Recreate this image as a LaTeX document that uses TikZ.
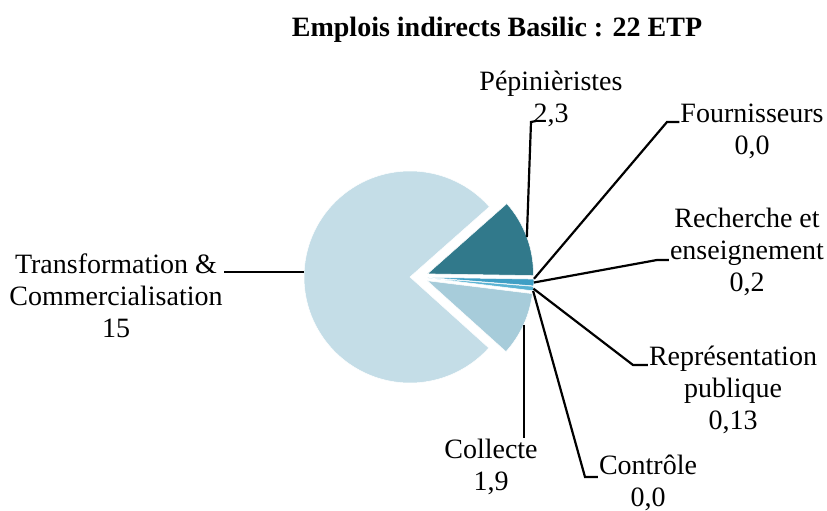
\documentclass[tikz,border=0pt]{standalone}
\usepackage{fontspec}
\setmainfont{Liberation Serif}
\usetikzlibrary{positioning}

\definecolor{transfo}{HTML}{C4DDE7}
\definecolor{pepi}{HTML}{31798B}
\definecolor{rech}{HTML}{3F9FC5}
\definecolor{repr}{HTML}{5AB3D3}
\definecolor{coll}{HTML}{A7CCDA}

\begin{document}
\begin{tikzpicture}[x=1pt, y=1pt, font=\fontsize{28}{32}\selectfont,
  lbl/.style={align=center, inner sep=1pt},
  lead/.style={line width=2.2pt, black},
  slice/.style={draw=white, line width=0.5pt}]

\useasboundingbox (0,0) rectangle (827,511);

\coordinate (o) at (419,234);

% slices, each pulled out by 9 along its middle
\fill[transfo, slice] ([shift={(180:9)}]o) -- ++(41.5:106) arc (41.5:318:106) -- cycle;
\fill[pepi, slice] ([shift={(20.3:9)}]o) -- ++(-0.9:106) arc (-0.9:41.5:106) -- cycle;
\fill[rech, slice] ([shift={(-2.75:9)}]o) -- ++(-4.6:106) arc (-4.6:-0.9:106) -- cycle;
\fill[repr, slice] ([shift={(-5.8:9)}]o) -- ++(-7:106) arc (-7:-4.6:106) -- cycle;
\fill[coll, slice] ([shift={(-24.5:9)}]o) -- ++(-42:106) arc (-42:-7:106) -- cycle;

\coordinate (transfo-tip) at ([shift={(177.5:115)}]o);
\coordinate (pepi-tip) at ([shift={(20.3:115)}]o);
\coordinate (fourn-tip) at ([shift={(-0.9:115)}]o);
\coordinate (rech-tip) at ([shift={(-2.75:115)}]o);
\coordinate (repr-tip) at ([shift={(-5.8:115)}]o);
\coordinate (ctrl-tip) at ([shift={(-7:115)}]o);
\coordinate (coll-tip) at ([shift={(-24.5:115)}]o);

\coordinate (pepi-bend) at (531,389);
\coordinate (fourn-bend) at (667,389);
\coordinate (rech-bend) at (657,251);
\coordinate (repr-bend) at (633,146);
\coordinate (ctrl-bend) at (585,34);

% labels
\node[font=\fontsize{28}{32}\selectfont\bfseries] (title) at (497,481) {Emplois indirects Basilic : 22 ETP};
\node[lbl] (transfo) at (116,215) {Transformation \&\\Commercialisation\\15};
\node[lbl] (pepi) at (551,412) {Pépinièristes\\2,3};
\node[lbl] (fourn) at (752,380) {Fournisseurs\\0,0};
\node[lbl] (rech) at (747,259) {Recherche et\\enseignement\\0,2};
\node[lbl] (repr) at (733,121) {Représentation\\publique\\0,13};
\node[lbl] (ctrl) at (648,28) {Contrôle\\0,0};
\node[lbl] (coll) at (491,44) {Collecte\\1,9};

% leader lines
\draw[lead] (transfo-tip) -- (transfo-tip -| transfo.east);
\draw[lead] (pepi-tip) -- (pepi-bend) -- ++(5,1);
\draw[lead] (fourn-tip) -- (fourn-bend) -- (fourn-bend -| fourn.west);
\draw[lead] (rech-tip) -- (rech-bend) -- (rech-bend -| rech.west);
\draw[lead] (repr-tip) -- (repr-bend) -- (repr-bend -| repr.west);
\draw[lead] (ctrl-tip) -- (ctrl-bend) -- (ctrl-bend -| ctrl.west);
\draw[lead] (coll-tip) -- (coll-tip |- coll.north);

\end{tikzpicture}
\end{document}
